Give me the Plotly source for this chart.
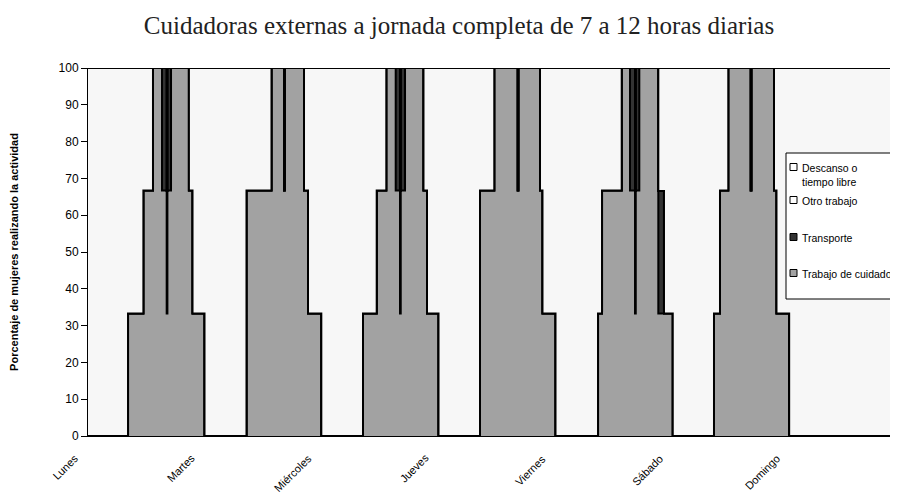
import plotly.graph_objects as go
import numpy as np

# ---- data (hours since Monday 00:00; % of women doing each activity) ----
day_labels = ["Lunes", "Martes", "Miércoles", "Jueves", "Viernes", "Sábado", "Domingo"]
day_ticks = [0, 24, 48, 72, 96, 120, 144]

mon_hours = [0, 8.21, 11.36, 13.33, 15.18, 16.14, 16.29, 17.03, 20.70, 21.44, 23.90]
mon_care = [0, 33.3, 66.7, 100, 66.7, 33.3, 66.7, 100, 66.7, 33.3, 0]
mon_transport = [0, 0, 0, 0, 33.3, 33.3, 33.3, 0, 0, 0, 0]

tue_hours = [32.51, 37.64, 40.21, 40.36, 44.31, 45.13, 47.86]
tue_care = [66.7, 100, 66.7, 100, 66.7, 33.3, 0]
tue_transport = [0, 0, 0, 0, 0, 0, 0]

wed_hours = [56.41, 59.22, 61.19, 63.12, 64.00, 64.15, 65.03, 68.82, 69.54, 71.90]
wed_care = [33.3, 66.7, 100, 66.7, 33.3, 66.7, 100, 66.7, 33.3, 0]
wed_transport = [0, 0, 0, 33.3, 33.3, 33.3, 0, 0, 0, 0]

thu_hours = [80.41, 83.34, 88.14, 88.29, 92.72, 93.23, 95.90]
thu_care = [66.7, 100, 66.7, 100, 66.7, 33.3, 0]
thu_transport = [0, 0, 0, 0, 0, 0, 0]

fri_hours = [104.62, 105.44, 109.48, 111.18, 112.21, 112.36, 113.09, 116.99, 118.15, 119.95]
fri_care = [33.3, 66.7, 100, 66.7, 33.3, 66.7, 100, 33.3, 33.3, 0]
fri_transport = [0, 0, 0, 33.3, 33.3, 33.3, 0, 33.3, 0, 0]

sat_hours = [128.41, 129.64, 131.34, 135.94, 136.09, 140.72, 141.23, 143.83]
sat_care = [33.3, 66.7, 100, 66.7, 100, 66.7, 33.3, 0]
sat_transport = [0, 0, 0, 0, 0, 0, 0, 0]

end_hours = [165.95]
end_care = [0]
end_transport = [0]

series_names = ["Descanso o<br>tiempo libre", "Otro trabajo", "Transporte", "Trabajo de cuidado"]

# ---- assemble series ----
hours = np.array(mon_hours + tue_hours + wed_hours + thu_hours + fri_hours + sat_hours + end_hours)
care = np.array(mon_care + tue_care + wed_care + thu_care + fri_care + sat_care + end_care)
transport = np.array(mon_transport + tue_transport + wed_transport + thu_transport
                     + fri_transport + sat_transport + end_transport)
other_work = np.zeros_like(care)
rest = 100 - care - transport - other_work

c_care = "#A2A2A2"
c_transport = "#333333"
c_other = "#FFFFFF"
c_rest = "#F7F7F7"
outline = dict(color="black", width=2, shape="hv")

fig = go.Figure()
fig.add_trace(go.Scatter(x=hours, y=care, mode="lines", line=outline, fill="tozeroy",
                         fillcolor=c_care, name=series_names[3], showlegend=False, hoverinfo="skip"))
fig.add_trace(go.Scatter(x=hours, y=care + transport, mode="lines", line=outline, fill="tonexty",
                         fillcolor=c_transport, name=series_names[2], showlegend=False, hoverinfo="skip"))
fig.add_trace(go.Scatter(x=hours, y=care + transport + other_work, mode="lines", line=outline,
                         fill="tonexty", fillcolor=c_other, name=series_names[1], showlegend=False,
                         hoverinfo="skip"))
fig.add_trace(go.Scatter(x=hours, y=care + transport + other_work + rest, mode="lines", line=outline,
                         fill="tonexty", fillcolor=c_rest, name=series_names[0], showlegend=False,
                         hoverinfo="skip"))

# ---- page geometry (page has an 8px body margin) ----
OFF = 8
W, H = 898 - OFF, 494 - OFF
L, R, T, B = 88, 897, 68, 436          # plot area in page pixels
def px(x):
    return (x - L) / (R - L)
def py(y):
    return (B - y) / (B - T)

shapes = []
annotations = []

# legend box (drawn as plain shapes + text)
shapes.append(dict(type="rect", xref="paper", yref="paper", x0=px(786), x1=px(897),
                   y0=py(299), y1=py(153), line=dict(color="black", width=1),
                   fillcolor="white", layer="above"))
legend_colors = ["#FFFFFF", "#FFFFFF", c_transport, c_care]
legend_rows = [167, 200, 237, 273]
for name, col, yrow in zip(series_names, legend_colors, legend_rows):
    shapes.append(dict(type="rect", xref="paper", yref="paper", x0=px(790), x1=px(797),
                       y0=py(yrow + 3.5), y1=py(yrow - 3.5), line=dict(color="black", width=1),
                       fillcolor=col, layer="above"))
    annotations.append(dict(text=name, xref="paper", yref="paper", x=px(800), y=py(yrow - 7),
                            xanchor="left", yanchor="top", showarrow=False, align="left",
                            font=dict(size=10.5, family="Liberation Sans, Arial, sans-serif")))

# day labels under the axis, rotated
for lab, t in zip(day_labels, day_ticks):
    annotations.append(dict(text=lab, xref="x", yref="paper", x=t, y=0, xshift=-5, yshift=-13,
                            xanchor="right", yanchor="top", textangle=-45, showarrow=False,
                            font=dict(size=11, family="Liberation Sans, Arial, sans-serif")))

fig.update_layout(
    width=W, height=H,
    margin=dict(l=L - OFF, r=1, t=T - OFF, b=(H + OFF) - B),
    paper_bgcolor="white",
    plot_bgcolor=c_rest,
    showlegend=False,
    font=dict(family="Liberation Sans, Arial, sans-serif", size=12, color="black"),
    title=dict(text="Cuidadoras externas a jornada completa de 7 a 12 horas diarias",
               font=dict(family="Liberation Serif, Times New Roman, serif", size=25, color="#222222"),
               x=(459 - OFF) / W, xref="container", xanchor="center",
               y=1 - (25 - OFF) / H, yref="container", yanchor="middle"),
    xaxis=dict(range=[0, 165.95], tickvals=day_ticks, ticktext=day_labels, showticklabels=False,
               ticks="", showgrid=False, zeroline=False, showline=True, linecolor="black",
               linewidth=1, automargin=False),
    yaxis=dict(range=[0, 100], dtick=10, ticks="outside", ticklen=6, tickcolor="black",
               showgrid=False, zeroline=False, showline=True, linecolor="black", linewidth=1,
               tickfont=dict(size=12), automargin=False,
               title=dict(text="<b>Porcentaje de mujeres realizando la actividad</b>",
                          font=dict(size=11), standoff=40)),
    shapes=shapes,
    annotations=annotations,
)

fig.write_html("out.html")
